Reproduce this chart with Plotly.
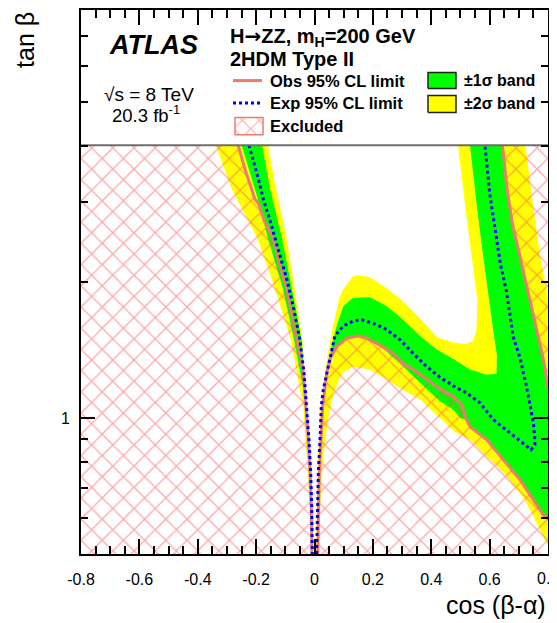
import numpy as np
import plotly.graph_objects as go

# ------------------------------------------------------------------
# Data  (x = cos(beta-alpha), y = tan beta)
# ------------------------------------------------------------------
# observed 95% CL limit contours
obs_left_x = [-0.264, -0.261, -0.238, -0.204, -0.193, -0.170, -0.141, -0.118, -0.095,
              -0.078, -0.060, -0.038, -0.029, -0.021, -0.015, -0.011, -0.009]
obs_left_y = [4.14, 4.00, 3.55, 3.05, 3.00, 2.71, 2.49, 2.17, 1.93,
              1.71, 1.49, 1.26, 1.06, 0.895, 0.755, 0.637, 0.50]

obs_mid_x = [0.011, 0.0137, 0.0164, 0.0223, 0.0281, 0.036, 0.042, 0.053, 0.076, 0.110,
             0.150, 0.179, 0.224, 0.270, 0.304, 0.338, 0.384, 0.430, 0.476, 0.504,
             0.521, 0.533, 0.590, 0.647, 0.704, 0.750, 0.784, 0.800]
obs_mid_y = [0.50, 0.626, 0.756, 0.895, 1.06, 1.17, 1.26, 1.35, 1.44, 1.50,
             1.52, 1.50, 1.45, 1.39, 1.32, 1.28, 1.22, 1.16, 1.115, 1.07,
             0.991, 0.956, 0.895, 0.808, 0.730, 0.659, 0.610, 0.598]

obs_right_x = [0.641, 0.644, 0.660, 0.677, 0.704, 0.738, 0.766, 0.784, 0.800]
obs_right_y = [4.14, 4.00, 3.21, 2.71, 2.28, 1.83, 1.51, 1.35, 1.166]

# expected 95% CL limit contours
exp_left_x = [-0.228, -0.224, -0.198, -0.175, -0.147, -0.124, -0.095, -0.073, -0.050,
              -0.036, -0.027, -0.019, -0.013, -0.0096, -0.0075]
exp_left_y = [4.14, 4.00, 3.49, 3.05, 2.66, 2.36, 2.03, 1.77, 1.49,
              1.26, 1.06, 0.895, 0.755, 0.637, 0.50]

exp_mid_x = [0.0075, 0.0103, 0.013, 0.0188, 0.0233, 0.030, 0.047, 0.070, 0.099, 0.133,
             0.162, 0.201, 0.247, 0.293, 0.338, 0.384, 0.430, 0.487, 0.521, 0.567,
             0.613, 0.670, 0.715, 0.742, 0.755, 0.755, 0.750, 0.738, 0.725, 0.704,
             0.681, 0.658, 0.636, 0.618, 0.601, 0.584, 0.581]
exp_mid_y = [0.50, 0.626, 0.756, 0.895, 1.06, 1.155, 1.30, 1.52, 1.60, 1.64,
             1.65, 1.62, 1.57, 1.49, 1.39, 1.30, 1.23, 1.166, 1.136, 1.08,
             0.991, 0.926, 0.880, 0.851, 0.873, 0.895, 0.975, 1.08, 1.185, 1.36,
             1.51, 1.90, 2.21, 2.64, 3.11, 4.00, 4.14]

# +-2 sigma band outlines
yellow_left_x = [-0.344, -0.337, -0.283, -0.194, -0.135, -0.0805, -0.039, -0.022, -0.012,
                 -0.004, -0.0137, -0.0257, -0.041, -0.070, -0.098, -0.135, -0.159, -0.166]
yellow_left_y = [4.14, 4.00, 3.21, 2.49, 1.93, 1.49, 1.06, 0.756, 0.50,
                 0.50, 0.756, 1.06, 1.49, 1.97, 2.55, 3.29, 4.00, 4.14]

yellow_mid_x = [0.005, 0.0086, 0.0137, 0.0206, 0.031, 0.043, 0.063, 0.087, 0.099, 0.132,
                0.149, 0.190, 0.247, 0.304, 0.361, 0.419, 0.476, 0.519, 0.543, 0.555,
                0.558, 0.553, 0.540, 0.522, 0.505, 0.492, 0.488,
                0.725, 0.723, 0.749, 0.773, 0.795, 0.800, 0.800,
                0.762, 0.721, 0.646, 0.590, 0.533, 0.481, 0.440, 0.361, 0.303, 0.248,
                0.190, 0.132, 0.094, 0.067, 0.046, 0.029, 0.019, 0.0154]
yellow_mid_y = [0.50, 0.659, 0.851, 1.043, 1.185, 1.35, 1.594, 1.86, 1.93, 2.06,
                2.07, 2.05, 1.94, 1.81, 1.66, 1.51, 1.47, 1.458, 1.48, 1.57,
                1.83, 1.93, 2.24, 2.75, 3.38, 4.00, 4.14,
                4.14, 4.00, 2.95, 2.28, 1.93, 1.83, 0.521,
                0.585, 0.659, 0.760, 0.821, 0.895, 0.932, 0.986, 1.10, 1.155, 1.216,
                1.28, 1.30, 1.254, 1.144, 0.991, 0.808, 0.626, 0.50]

# +-1 sigma band outlines
green_left_x = [-0.2535, -0.249, -0.194, -0.159, -0.108, -0.070, -0.0377, -0.024, -0.0137, -0.0086,
                -0.005, -0.0103, -0.0171, -0.031, -0.0445, -0.077, -0.111, -0.152, -0.179, -0.183]
green_left_y = [4.14, 4.00, 3.05, 2.49, 1.93, 1.49, 1.155, 0.895, 0.659, 0.50,
                0.50, 0.659, 0.895, 1.155, 1.49, 1.93, 2.49, 3.21, 4.00, 4.14]

green_mid_x = [0.008, 0.012, 0.017, 0.024, 0.0325, 0.042, 0.0565, 0.076, 0.099, 0.133,
               0.190, 0.247, 0.304, 0.361, 0.419, 0.476, 0.533, 0.590, 0.624, 0.625,
               0.615, 0.601, 0.578, 0.556, 0.533, 0.529,
               0.641, 0.644, 0.660, 0.677, 0.704, 0.738, 0.766, 0.784, 0.800, 0.800,
               0.784, 0.750, 0.704, 0.647, 0.590, 0.533, 0.521, 0.499, 0.476, 0.430,
               0.361, 0.304, 0.247, 0.224, 0.179, 0.150, 0.110, 0.076, 0.053, 0.042,
               0.036, 0.028, 0.022, 0.016, 0.0137, 0.011]
green_mid_y = [0.50, 0.659, 0.851, 1.017, 1.155, 1.237, 1.417, 1.60, 1.77, 1.845,
               1.85, 1.77, 1.65, 1.52, 1.417, 1.35, 1.28, 1.247, 1.254, 1.38,
               1.52, 1.77, 2.28, 2.95, 4.00, 4.14,
               4.14, 4.00, 3.21, 2.71, 2.28, 1.83, 1.51, 1.35, 1.166, 0.60,
               0.610, 0.659, 0.730, 0.808, 0.895, 0.956, 0.991, 1.00, 1.043, 1.088,
               1.198, 1.30, 1.403, 1.45, 1.50, 1.52, 1.50, 1.44, 1.35, 1.26,
               1.17, 1.06, 0.895, 0.756, 0.626, 0.50]

# axes
x_range = [-0.8, 0.8]
y_range = [0.5, 8.0]
x_major = [-0.8, -0.6, -0.4, -0.2, 0.0, 0.2, 0.4, 0.6, 0.8]
x_labels = ['-0.8', '-0.6', '-0.4', '-0.2', '0', '0.2', '0.4', '0.6', '0.8']
x_minor = [round(-0.8 + 0.05 * i, 2) for i in range(33) if i % 4 != 0]
y_major = [1]
y_labels = ['1']
y_minor = [0.6, 0.7, 0.8, 0.9, 2, 3, 4, 5, 6, 7]

# ------------------------------------------------------------------
FONT = 'Liberation Sans, Arial, Helvetica, sans-serif'
YELLOW = '#ffff00'
GREEN = '#00ff00'
OBS = '#ec7c6e'
HATCH = '#ff5050'
EXP = '#0000ff'

fig = go.Figure()


def poly(x, y, color, xa='x', ya='y'):
    fig.add_trace(go.Scatter(x=x, y=y, fill='toself', fillcolor=color, mode='none',
                             hoverinfo='skip', showlegend=False, xaxis=xa, yaxis=ya))


def hatch(x, y, xa='x', ya='y', size=15):
    fig.add_trace(go.Scatter(x=x, y=y, fill='toself', fillcolor='rgba(0,0,0,0)', mode='none',
                             fillpattern=dict(shape='x', fgcolor=HATCH, bgcolor='rgba(0,0,0,0)',
                                              size=size, solidity=0.17),
                             hoverinfo='skip', showlegend=False, xaxis=xa, yaxis=ya))


def line(x, y, color, dash='solid', width=3, xa='x', ya='y'):
    fig.add_trace(go.Scatter(x=x, y=y, mode='lines', line=dict(color=color, width=width, dash=dash),
                             hoverinfo='skip', showlegend=False, xaxis=xa, yaxis=ya))


# bands
poly(yellow_left_x, yellow_left_y, YELLOW)
poly(yellow_mid_x, yellow_mid_y, YELLOW)
poly(green_left_x, green_left_y, GREEN)
poly(green_mid_x, green_mid_y, GREEN)

# excluded (hatched) regions, closed with the plot corners
ytop = obs_left_y[0]
hatch(obs_left_x + [x_range[0], x_range[0]], obs_left_y + [y_range[0], ytop])
hatch(obs_mid_x + [x_range[1]], obs_mid_y + [y_range[0]])
hatch(obs_right_x + [x_range[1]], obs_right_y + [ytop])

# limit lines
line(obs_left_x, obs_left_y, OBS)
line(obs_mid_x, obs_mid_y, OBS)
line(obs_right_x, obs_right_y, OBS)
line(exp_left_x, exp_left_y, EXP, dash='dot')
line(exp_mid_x, exp_mid_y, EXP, dash='dot')

# ---------------- legend box (overlay axes in [0,1] units) ----------------
box_bottom = 0.7513
poly([0, 1, 1, 0], [box_bottom, box_bottom, 1.02, 1.02], 'white', 'x2', 'y2')
line([0, 1], [box_bottom, box_bottom], '#6e6e6e', width=2, xa='x2', ya='y2')

# obs / exp samples
line([0.3255, 0.3876], [0.8703, 0.8703], OBS, width=3, xa='x2', ya='y2')
line([0.3255, 0.3876], [0.8289, 0.8289], EXP, dash='dot', width=3, xa='x2', ya='y2')
# excluded sample
hatch([0.3298, 0.3897, 0.3897, 0.3298], [0.7709, 0.7709, 0.8022, 0.8022], 'x2', 'y2', size=12)
line([0.3298, 0.3897, 0.3897, 0.3298, 0.3298], [0.7709, 0.7709, 0.8022, 0.8022, 0.7709],
     OBS, width=1.5, xa='x2', ya='y2')
# band samples
for (y0, y1, col) in [(0.8556, 0.8850, GREEN), (0.8114, 0.8427, YELLOW)]:
    fig.add_trace(go.Scatter(x=[0.743, 0.803, 0.803, 0.743, 0.743], y=[y0, y0, y1, y1, y0],
                             fill='toself', fillcolor=col, mode='lines',
                             line=dict(color='#222222', width=1.5),
                             hoverinfo='skip', showlegend=False, xaxis='x2', yaxis='y2'))

ann = []


def text(x, y, s, size, xanchor='left', yanchor='middle', **kw):
    ann.append(dict(x=x, y=y, xref='paper', yref='paper', text=s, showarrow=False,
                    xanchor=xanchor, yanchor=yanchor,
                    font=dict(family=FONT, size=size, color='black'), **kw))


ARROW = "<span style='font-family:DejaVu Sans'>→</span>"
text(0.0557, 0.9365, '<b><i>ATLAS</i></b>', 27)
text(0.0450, 0.8450, '√s = 8 TeV', 19)
text(0.0621, 0.8080, '20.3 fb<sup>-1</sup>', 18.5)
text(0.3148, 0.9512, '<b>H' + ARROW + 'ZZ, m<sub>H</sub>=200 GeV</b>', 20)
text(0.3148, 0.9098, '<b>2HDM Type II</b>', 20)
text(0.4004, 0.8703, '<b>Obs 95% CL limit</b>', 16.5)
text(0.4004, 0.8289, '<b>Exp 95% CL limit</b>', 16.5)
text(0.4004, 0.7866, '<b>Excluded</b>', 16.5)
text(0.8152, 0.8703, '<b>±1σ band</b>', 16)
text(0.8152, 0.8280, '<b>±2σ band</b>', 16)
# last x tick label (sits on the figure edge)
text(1.0, -0.0442, x_labels[-1], 16, xanchor='center', yanchor='middle')
# axis titles
text(-0.12, 1.0, 'tan β', 25, xanchor='center', yanchor='top', textangle=-90)
text(1.0, -0.094, 'cos (β-α)', 25, xanchor='right', yanchor='middle')

axis_common = dict(ticks='inside', tickwidth=1.5, tickcolor='black', showline=True, linewidth=2,
                   linecolor='black', mirror='allticks', showgrid=False, zeroline=False,
                   automargin=False,
                   tickfont=dict(family=FONT, size=16, color='black'), layer='above traces')

# the page body adds an 8 px offset, so the figure is 8 px smaller on each axis
fig.update_layout(
    width=549, height=615,
    margin=dict(l=73, r=9, t=2, b=69, pad=0, autoexpand=False),
    paper_bgcolor='white', plot_bgcolor='white',
    showlegend=False,
    xaxis=dict(range=x_range, tickmode='array', tickvals=x_major, ticktext=x_labels, ticklen=15,
               ticklabelstandoff=10,
               minor=dict(tickmode='array', tickvals=x_minor, ticks='inside', ticklen=8,
                          tickwidth=1.5, tickcolor='black', showgrid=False),
               **axis_common),
    yaxis=dict(type='log', range=[np.log10(y_range[0]), np.log10(y_range[1])], tickmode='array',
               tickvals=y_major, ticktext=y_labels, ticklen=14, ticklabelstandoff=6,
               minor=dict(tickmode='array', tickvals=y_minor, ticks='inside', ticklen=7,
                          tickwidth=1.5, tickcolor='black', showgrid=False),
               **axis_common),
    xaxis2=dict(overlaying='x', anchor='y2', range=[0, 1], visible=False, fixedrange=True),
    yaxis2=dict(overlaying='y', anchor='x2', range=[0, 1], visible=False, fixedrange=True),
    annotations=ann,
)

fig.write_html('out.html')
